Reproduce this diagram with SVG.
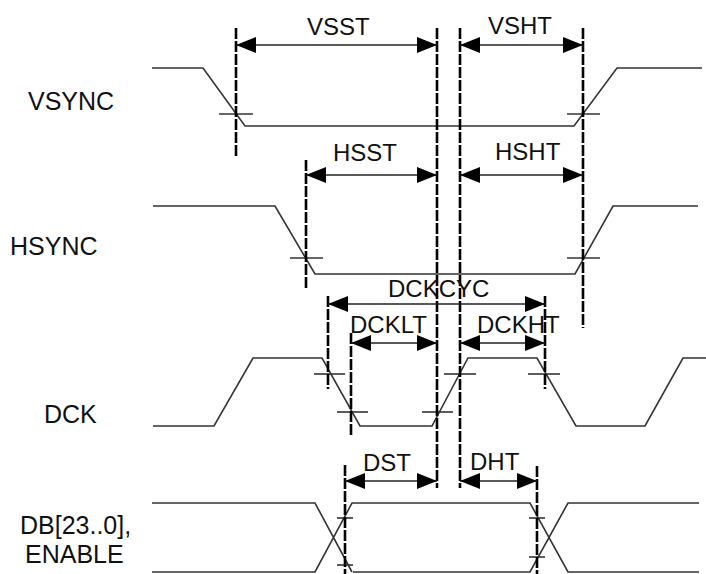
<svg xmlns="http://www.w3.org/2000/svg" width="706" height="574" viewBox="0 0 706 574">
<style>
.bg{fill:#fff}
.lbl{font-family:"Liberation Sans",Arial,sans-serif;font-size:25px;fill:#111}
.tl{font-family:"Liberation Sans",Arial,sans-serif;font-size:24px;fill:#111}
.wave{fill:none;stroke:#333;stroke-width:1.6;stroke-linejoin:miter}
.tick{stroke:#333;stroke-width:1.6}
.ref{stroke:#000;stroke-width:2.6;stroke-dasharray:11 2;fill:none}
.arr{stroke:#222;stroke-width:1.6;fill:none;marker-start:url(#ah);marker-end:url(#ah)}
</style>
<defs>
<marker id="ah" markerUnits="userSpaceOnUse" markerWidth="20" markerHeight="18" viewBox="0 0 20 18" refX="20" refY="9" orient="auto-start-reverse">
<path d="M0,1 L20,9 L0,17 Z" fill="#000"/>
</marker>
</defs>
<rect class="bg" x="0" y="0" width="706" height="574"/>

<g id="labels">
<text class="lbl" x="28" y="110">VSYNC</text>
<text class="lbl" x="10" y="255">HSYNC</text>
<text class="lbl" x="44" y="423">DCK</text>
<text class="lbl" x="20" y="534">DB[23..0],</text>
<text class="lbl" x="25" y="563">ENABLE</text>
</g>

<g id="vsync">
<path class="wave" d="M152,68 H203 L245,126 H574 L617,68 H702"/>
<line class="tick" x1="219" y1="114" x2="253" y2="114"/>
<line class="tick" x1="567" y1="114" x2="600" y2="114"/>
</g>

<g id="hsync">
<path class="wave" d="M153,206 H275 L315,274 H575 L613,206 H698"/>
<line class="tick" x1="290" y1="258" x2="323" y2="258"/>
<line class="tick" x1="567" y1="258" x2="600" y2="258"/>
</g>

<g id="dck">
<path class="wave" d="M153,426 H214 L253,358 H322 L360,426 H432 L468,358 H537 L576,426 H645 L683,358 H706"/>
<line class="tick" x1="314" y1="374" x2="345" y2="374"/>
<line class="tick" x1="337" y1="412" x2="368" y2="412"/>
<line class="tick" x1="422" y1="412" x2="453" y2="412"/>
<line class="tick" x1="444" y1="374" x2="476" y2="374"/>
<line class="tick" x1="528" y1="374" x2="560" y2="374"/>
</g>

<g id="db">
<path class="wave" d="M152,503 H315 L352,572 M152,572 H315 L352,503 H530 L568,572 H699 M353,572 H530 L568,503 H699"/>
<line class="tick" x1="337" y1="518" x2="353" y2="518"/>
<line class="tick" x1="337" y1="565" x2="353" y2="565"/>
<line class="tick" x1="529" y1="518" x2="545" y2="518"/>
<line class="tick" x1="529" y1="557" x2="545" y2="557"/>
</g>

<g id="connectors">
<line class="ref" x1="437" y1="28" x2="437" y2="488"/>
<line class="ref" x1="460" y1="28" x2="460" y2="488"/>
<line class="ref" x1="236" y1="28" x2="236" y2="158"/>
<line class="ref" x1="583" y1="28" x2="583" y2="328"/>
<line class="ref" x1="306" y1="160" x2="306" y2="290"/>
<line class="ref" x1="328" y1="296" x2="328" y2="389"/>
<line class="ref" x1="545" y1="296" x2="545" y2="389"/>
<line class="ref" x1="351" y1="333" x2="351" y2="435"/>
<line class="ref" x1="345" y1="465" x2="345" y2="574"/>
<line class="ref" x1="537" y1="466" x2="537" y2="574"/>

<line class="arr" x1="236" y1="45" x2="437" y2="45"/>
<line class="arr" x1="460" y1="45" x2="583" y2="45"/>
<line class="arr" x1="306" y1="175" x2="437" y2="175"/>
<line class="arr" x1="460" y1="175" x2="583" y2="175"/>
<line class="arr" x1="328" y1="304" x2="545" y2="304"/>
<line class="arr" x1="351" y1="343" x2="437" y2="343"/>
<line class="arr" x1="460" y1="343" x2="545" y2="343"/>
<line class="arr" x1="345" y1="481" x2="437" y2="481"/>
<line class="arr" x1="460" y1="481" x2="537" y2="481"/>
</g>

<g id="timing-labels">
<text class="tl" x="307" y="35">VSST</text>
<text class="tl" x="488" y="34">VSHT</text>
<text class="tl" x="333" y="161">HSST</text>
<text class="tl" x="495" y="160">HSHT</text>
<text class="tl" x="388" y="297">DCKCYC</text>
<text class="tl" x="350" y="333">DCKLT</text>
<text class="tl" x="477" y="333">DCKHT</text>
<text class="tl" x="363" y="471">DST</text>
<text class="tl" x="470" y="470">DHT</text>
</g>
</svg>
